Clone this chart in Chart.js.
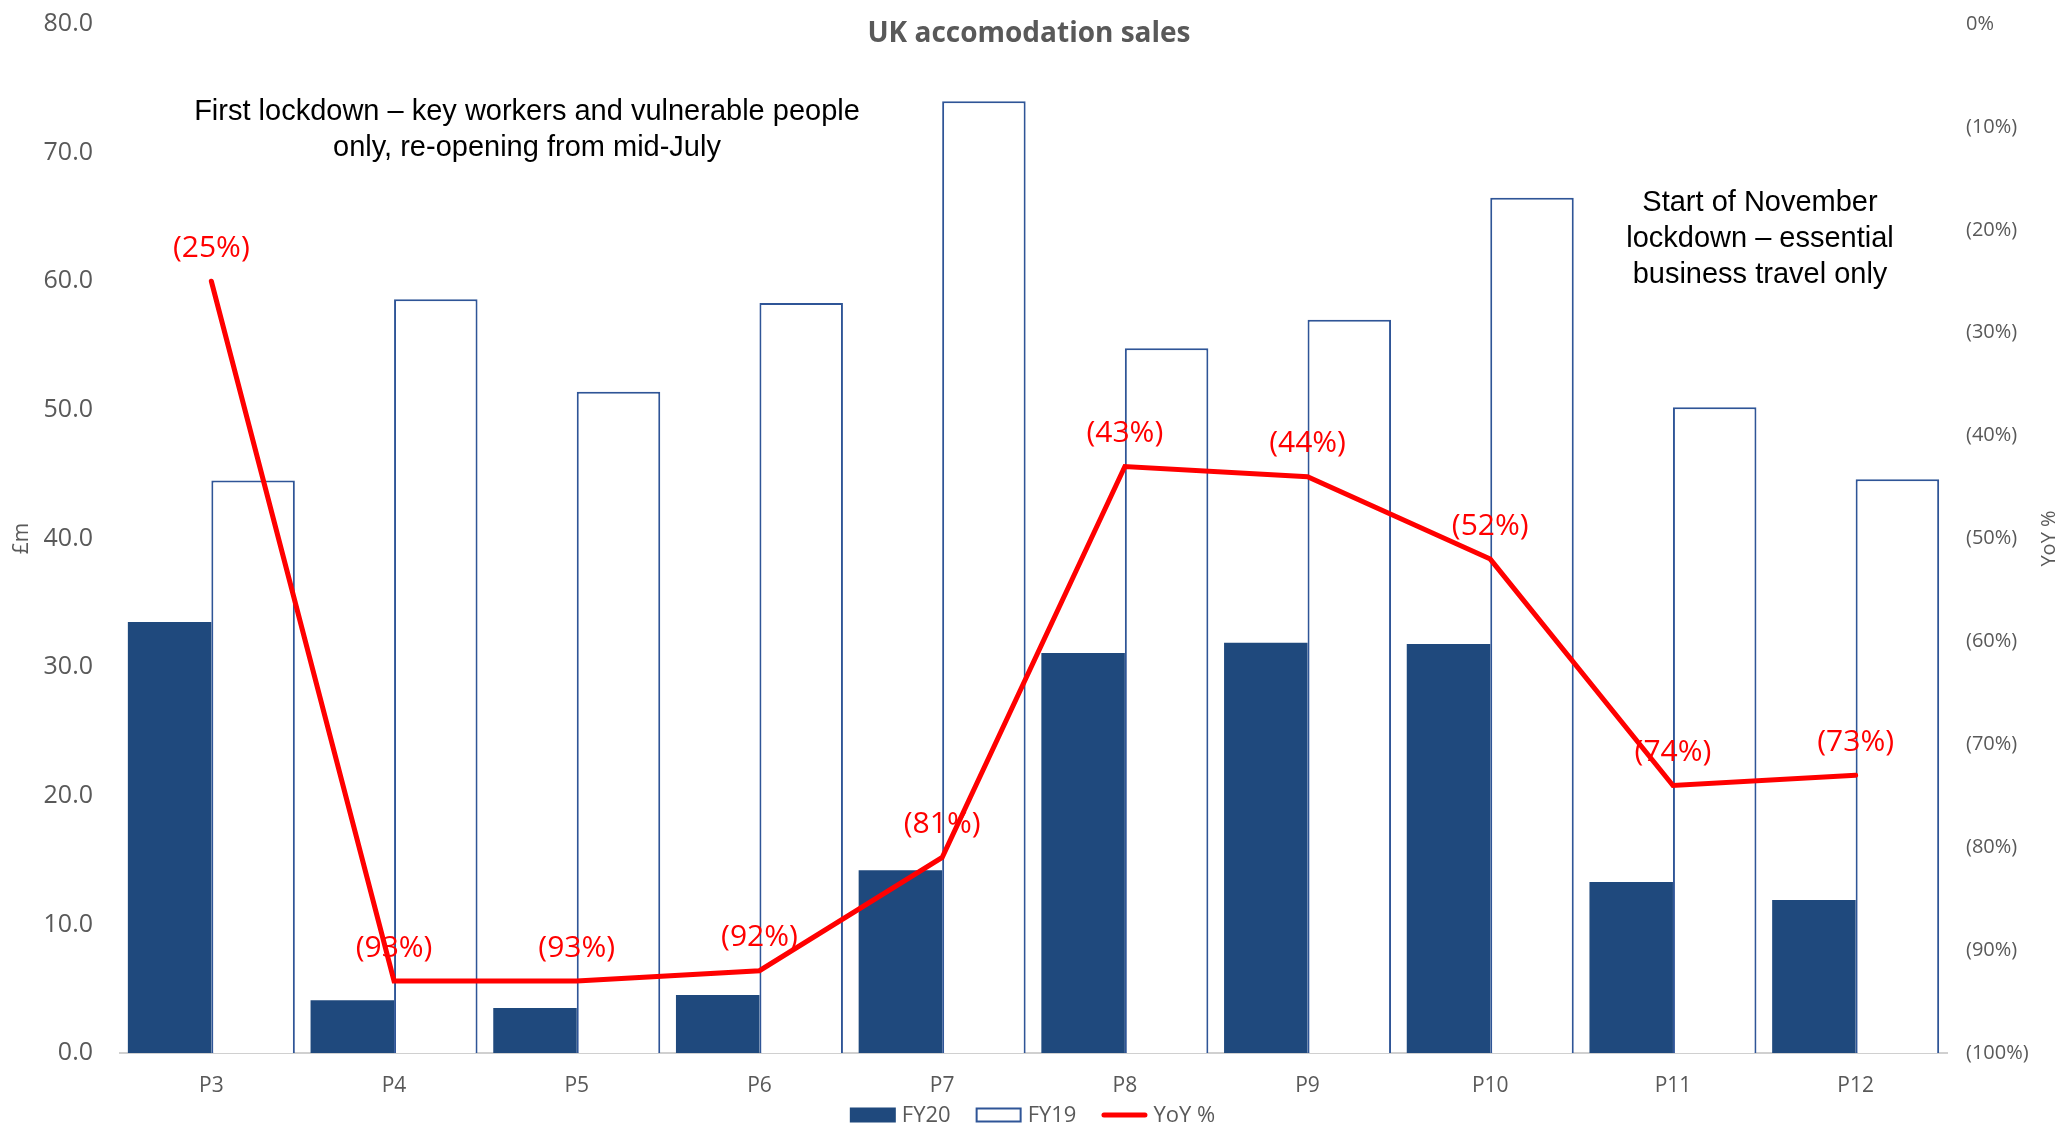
<!DOCTYPE html>
<html lang="en">
<head>
<meta charset="utf-8">
<title>UK accomodation sales</title>
<script src="https://cdn.jsdelivr.net/npm/chart.js@4.4.1/dist/chart.umd.min.js"></script>
<style>
  html, body { margin: 0; padding: 0; background: #fff; }
  #chartWrap { width: 2059px; height: 1126px; }
</style>
</head>
<body>
<div id="chartWrap"><canvas id="salesChart" width="2059" height="1126"></canvas></div>
<script>
// Periods and sales values (£m)
const periods = ['P3', 'P4', 'P5', 'P6', 'P7', 'P8', 'P9', 'P10', 'P11', 'P12'];
const fy20Sales = [33.5, 4.1, 3.5, 4.5, 14.2, 31.1, 31.9, 31.8, 13.3, 11.9];
const fy19Sales = [44.5, 58.6, 51.4, 58.3, 74.0, 54.8, 57.0, 66.5, 50.2, 44.6];
// Year-on-year change, %
const yoyPct = [-25, -93, -93, -92, -81, -43, -44, -52, -74, -73];

const chartTitle = 'UK accomodation sales';
const firstLockdownNote = ['First lockdown \u2013 key workers and vulnerable people', 'only, re-opening from mid-July'];
const novemberNote = ['Start of November', 'lockdown \u2013 essential', 'business travel only'];

const FONT = '"Open Sans", "Noto Sans", sans-serif';
const NOTE_FONT = '"Liberation Sans", Arial, sans-serif';
const GREY = '#595959';

function pctLabel(v) {
    if (v === 0) return '0%';
    return v < 0 ? `(${Math.abs(v)}%)` : `${v}%`;
}

// keep tick padding from pushing the plot area down
function fixWidth(w) {
    return (scale) => {
        scale.width = w;
        scale.paddingTop = 0;
        scale.paddingBottom = 0;
    };
}

// Title, callout notes, right axis title, legend and the red YoY labels
const overlayText = {
    id: 'overlayText',
    afterDatasetsDraw(chart) {
        const ctx = chart.ctx;
        const meta = chart.getDatasetMeta(2);
        ctx.save();
        ctx.font = `30px ${FONT}`;
        ctx.fillStyle = '#FF0000';
        ctx.textAlign = 'center';
        ctx.textBaseline = 'middle';
        meta.data.forEach((pt, i) => {
            ctx.fillText(pctLabel(yoyPct[i]), pt.x, pt.y - 33);
        });
        ctx.restore();
    },
    afterDraw(chart) {
        const ctx = chart.ctx;
        ctx.save();
        ctx.textAlign = 'center';
        ctx.textBaseline = 'middle';

        ctx.font = `bold 28px ${FONT}`;
        ctx.fillStyle = GREY;
        ctx.fillText(chartTitle, 1029, 34);

        ctx.font = `29px ${NOTE_FONT}`;
        ctx.fillStyle = '#000000';
        firstLockdownNote.forEach((line, i) => ctx.fillText(line, 527, 112 + i * 36));
        novemberNote.forEach((line, i) => ctx.fillText(line, 1760, 203 + i * 36));

        drawLegend(chart);

        // right axis title reads bottom to top
        const yScale = chart.scales.yPct;
        ctx.translate(2049, (yScale.top + yScale.bottom) / 2);
        ctx.rotate(-Math.PI / 2);
        ctx.font = `20px ${FONT}`;
        ctx.fillStyle = GREY;
        ctx.textAlign = 'center';
        ctx.fillText('YoY %', 0, 0);
        ctx.restore();
    }
};

function drawLegend(chart) {
    const ctx = chart.ctx;
    const sw = 46, boxH = 15, textGap = 6, itemGap = 25, cy = 1115;
    ctx.save();
    ctx.font = `22px ${FONT}`;
    ctx.textAlign = 'left';
    ctx.textBaseline = 'middle';
    const items = chart.data.datasets.map((ds) => ({ ds, w: ctx.measureText(ds.label).width }));
    const total = items.reduce((s, it) => s + sw + textGap + it.w, 0) + itemGap * (items.length - 1);
    let x = chart.width / 2 + 3 - total / 2;
    items.forEach(({ ds, w }) => {
        if (ds.type === 'line') {
            ctx.strokeStyle = ds.borderColor;
            ctx.lineWidth = ds.borderWidth;
            ctx.lineCap = 'round';
            ctx.beginPath();
            ctx.moveTo(x + 2.5, cy);
            ctx.lineTo(x + sw - 2.5, cy);
            ctx.stroke();
        } else {
            ctx.fillStyle = ds.backgroundColor;
            ctx.fillRect(x, cy - boxH / 2, sw, boxH);
            if (ds.borderWidth) {
                ctx.strokeStyle = ds.borderColor;
                ctx.lineWidth = ds.borderWidth;
                ctx.strokeRect(x + 1, cy - boxH / 2 + 1, sw - 2, boxH - 2);
            }
        }
        ctx.fillStyle = GREY;
        ctx.fillText(ds.label, x + sw + textGap, cy + 1);
        x += sw + textGap + w + itemGap;
    });
    ctx.restore();
}

const ctx = document.getElementById('salesChart').getContext('2d');

new Chart(ctx, {
    type: 'bar',
    data: {
        labels: periods,
        datasets: [
            {
                label: 'FY20',
                data: fy20Sales,
                yAxisID: 'y',
                backgroundColor: '#1F497D',
                borderWidth: 0,
                barPercentage: 1,
                categoryPercentage: 0.914,
                order: 1
            },
            {
                label: 'FY19',
                data: fy19Sales,
                yAxisID: 'y',
                backgroundColor: '#FFFFFF',
                borderColor: '#2F5597',
                borderWidth: 2,
                barPercentage: 1,
                categoryPercentage: 0.914,
                order: 1
            },
            {
                type: 'line',
                label: 'YoY %',
                data: yoyPct,
                yAxisID: 'yPct',
                borderColor: '#FF0000',
                backgroundColor: '#FF0000',
                borderWidth: 5,
                borderJoinStyle: 'miter',
                borderCapStyle: 'round',
                pointRadius: 0,
                tension: 0,
                order: 0
            }
        ]
    },
    options: {
        responsive: false,
        animation: false,
        events: [],
        layout: {
            padding: { top: 24, bottom: 0, left: 0, right: 0 }
        },
        scales: {
            x: {
                grid: { display: false, drawTicks: false },
                border: { display: true, color: '#D0D0D0', width: 2 },
                ticks: {
                    color: GREY,
                    padding: 20,
                    font: { family: FONT, size: 21 }
                },
                afterFit: (scale) => { scale.height = 73; }
            },
            y: {
                position: 'left',
                min: 0,
                max: 80,
                grid: { display: false, drawTicks: false },
                border: { display: false },
                ticks: {
                    stepSize: 10,
                    color: GREY,
                    padding: 27,
                    font: { family: FONT, size: 25 },
                    callback: (v) => v.toFixed(1)
                },
                title: {
                    display: true,
                    text: '£m',
                    color: GREY,
                    padding: { top: 9, bottom: 0 },
                    font: { family: FONT, size: 21 }
                },
                afterFit: fixWidth(120)
            },
            yPct: {
                position: 'right',
                min: -100,
                max: 0,
                grid: { display: false, drawTicks: false },
                border: { display: false },
                ticks: {
                    stepSize: 10,
                    color: GREY,
                    padding: 19,
                    font: { family: FONT, size: 20 },
                    callback: (v) => pctLabel(v)
                },
                afterFit: fixWidth(112)
            }
        },
        plugins: {
            tooltip: { enabled: false },
            legend: { display: false }
        }
    },
    plugins: [overlayText]
});
</script>
</body>
</html>
